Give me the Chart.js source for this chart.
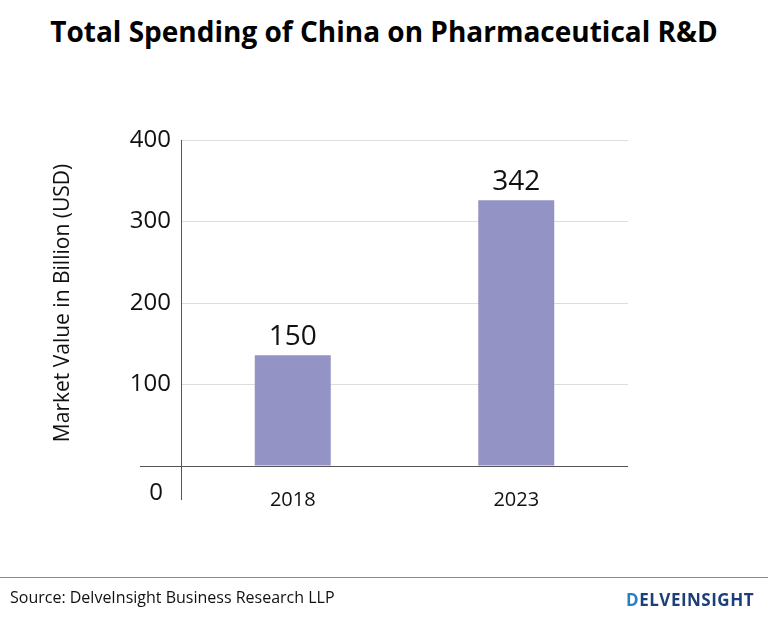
<!DOCTYPE html>
<html><head><meta charset="utf-8">
<script src="https://cdn.jsdelivr.net/npm/chart.js@4/dist/chart.umd.min.js"></script>
<style>
body{margin:0;width:768px;height:620px;background:#fff;position:relative;font-family:"Open Sans",sans-serif;overflow:hidden}
#t{position:absolute;top:12px;left:0;width:768px;text-align:center;font-weight:bold;font-size:28px;color:#000}
#c{position:absolute;left:0;top:0}
#line{position:absolute;left:0;top:577px;width:768px;height:1px;background:#888}
#src{position:absolute;left:10px;top:586px;font-size:16px;color:#111}
#logo{position:absolute;right:14px;top:588px;font-size:17px;font-weight:bold;color:#1c3f7a;letter-spacing:0.5px}
</style></head><body>
<div id="t">Total Spending of China on Pharmaceutical R&amp;D</div>
<canvas id="c" width="768" height="620"></canvas>
<div id="line"></div>
<div id="src">Source: DelveInsight Business Research LLP</div>
<div id="logo"><span style="color:#2a7fc1">D</span>ELVEINSIGHT</div>
<script>
const categories=["2018","2023"];
const barValues=[136,326];
const valueLabels=["150","342"];
const yTicks=[0,100,200,300,400];
const extra={id:'extra',afterDraw(ch){
 const c=ch.ctx,a=ch.chartArea,y=ch.scales.y,x=ch.scales.x;
 c.save();c.strokeStyle='#555';c.lineWidth=1;
 c.beginPath();c.moveTo(140,a.bottom+0.5);c.lineTo(a.right,a.bottom+0.5);c.stroke();
 c.beginPath();c.moveTo(a.left+0.5,a.top);c.lineTo(a.left+0.5,500);c.stroke();
 c.fillStyle='#111';c.font='24px "Open Sans"';c.textAlign='right';c.textBaseline='middle';
 c.fillText('0',163,493);
 c.font='28px "Open Sans"';c.textAlign='center';c.textBaseline='bottom';
 ch.getDatasetMeta(0).data.forEach((b,i)=>c.fillText(valueLabels[i],b.x,b.y-4));
 c.restore();}};
new Chart(document.getElementById('c'),{type:'bar',
data:{labels:categories,datasets:[{data:barValues,backgroundColor:'#9393c6',barPercentage:0.34,categoryPercentage:1}]},
options:{responsive:false,animation:false,events:[],
layout:{padding:{left:46,top:140,right:140,bottom:114}},
plugins:{legend:{display:false},tooltip:{enabled:false}},
scales:{
 x:{grid:{display:false},border:{display:false},ticks:{color:'#111',font:{size:20,family:'Open Sans'},padding:14},afterFit(s){s.height=40;}},
 y:{min:0,max:400,afterBuildTicks(s){s.ticks=yTicks.map(v=>({value:v}));},
  grid:{color:'#ddd',drawTicks:false},border:{display:false},
  ticks:{color:'#111',font:{size:24,family:'Open Sans'},padding:10,callback:v=>v===0?'':v},
  title:{display:true,text:'Market Value in Billion (USD)',color:'#111',font:{size:21,family:'Open Sans'}},
  afterFit(s){s.width=135;}}}},
plugins:[extra]});
</script></body></html>
